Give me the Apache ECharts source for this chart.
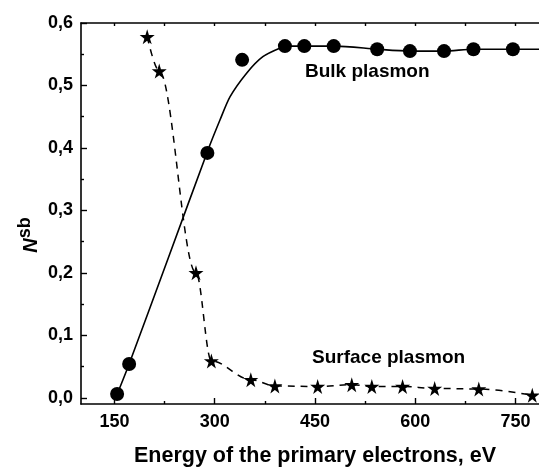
<!DOCTYPE html>
<html>
<head>
<meta charset="utf-8">
<script src="https://cdn.jsdelivr.net/npm/echarts@6/dist/echarts.min.js"></script>
<style>
  html, body { margin: 0; padding: 0; background: #fff; }
  #chart { width: 539px; height: 468px; }
</style>
</head>
<body>
<div id="chart"></div>
<script>
// measured points, bulk plasmon (circles)
const bulkEnergy = [154, 172, 289, 341, 405, 434, 478, 543, 592, 643, 687, 746]
const bulkValue = [0.006, 0.054, 0.392, 0.541, 0.563, 0.563, 0.563, 0.558, 0.555, 0.555, 0.558, 0.558]

// fitted curve through bulk points
const fitEnergy = [152, 172, 230, 289, 308, 323, 348, 372, 398, 410, 480, 543, 592, 643, 687, 800]
const fitValue = [0.0, 0.054, 0.222, 0.394, 0.445, 0.482, 0.52, 0.546, 0.56, 0.563, 0.563, 0.558, 0.555, 0.555, 0.558, 0.558]

// surface plasmon (stars)
const surfEnergy = [199, 217, 272, 295, 354, 390, 454, 505, 535, 581, 629, 695, 775]
const surfValue = [0.578, 0.523, 0.200, 0.059, 0.029, 0.019, 0.018, 0.021, 0.018, 0.018, 0.015, 0.014, 0.004]

const xLabels = [150, 300, 450, 600, 750]
const xMinor = [225, 375, 525, 675]
const xTop = [150, 225, 300, 375, 450, 525, 600, 675, 750]
const yLabels = [0, 0.1, 0.2, 0.3, 0.4, 0.5, 0.6]
const yMinor = [0.05, 0.15, 0.25, 0.35, 0.45, 0.55]

const font = "Liberation Sans, Arial, sans-serif"
const star = "path://M50,0 L61,35 L98,35 L68,57 L79,91 L50,70 L21,91 L32,57 L2,35 L39,35 Z"
const zip = (xs, ys) => xs.map((x, i) => [x, ys[i]])

const xRange = { type: "value", min: 100, max: 800, splitLine: { show: false } }
const yRange = { type: "value", min: -0.01, max: 0.6, splitLine: { show: false } }
const line = { onZero: false, lineStyle: { color: "#000", width: 1.6 } }
const tick = (length, values) => ({
  inside: true, length, customValues: values, lineStyle: { color: "#000", width: 1.4 },
})

const chart = echarts.init(document.getElementById("chart"))
chart.setOption({
  animation: false,
  backgroundColor: "#fff",
  // plot runs past the right edge, as in the source image
  grid: { left: 81, top: 23, width: 468, height: 381, outerBoundsMode: "none", containLabel: false },
  xAxis: [
    {
      ...xRange, position: "bottom",
      axisLine: line,
      axisTick: tick(6, xLabels),
      axisLabel: {
        customValues: xLabels, color: "#000", fontFamily: font, fontWeight: "bold", fontSize: 18, margin: 9,
      },
      name: "Energy of the primary electrons, eV",
      nameLocation: "middle", nameGap: 41,
      nameTextStyle: { color: "#000", fontFamily: font, fontWeight: "bold", fontSize: 21.5 },
    },
    {
      ...xRange, position: "bottom",
      axisLine: { show: false, onZero: false },
      axisTick: tick(3, xMinor),
      axisLabel: { show: false },
    },
    {
      ...xRange, position: "top",
      axisLine: line,
      axisTick: tick(3, xTop),
      axisLabel: { show: false },
    },
  ],
  yAxis: [
    {
      ...yRange, position: "left",
      axisLine: line,
      axisTick: tick(6, yLabels),
      axisLabel: {
        customValues: yLabels, color: "#000", fontFamily: font, fontWeight: "bold", fontSize: 18, margin: 8,
        formatter: (v) => v.toFixed(1).replace(".", ","),
      },
    },
    {
      ...yRange, position: "left",
      axisLine: { show: false, onZero: false },
      axisTick: tick(3, yMinor),
      axisLabel: { show: false },
    },
    {
      ...yRange, position: "right",
      axisLine: line,
      axisTick: { show: false },
      axisLabel: { show: false },
    },
  ],
  series: [
    {
      type: "line", data: zip(fitEnergy, fitValue), smooth: 0.25,
      showSymbol: false, lineStyle: { color: "#000", width: 1.6 }, z: 2,
    },
    {
      type: "scatter", data: zip(bulkEnergy, bulkValue),
      symbol: "circle", symbolSize: 14, itemStyle: { color: "#000", opacity: 1 }, z: 3,
    },
    {
      type: "line", data: zip(surfEnergy, surfValue), smooth: 0.35, smoothMonotone: "x",
      symbol: star, symbolSize: 15, itemStyle: { color: "#000", opacity: 1 },
      lineStyle: { color: "#000", width: 1.5, type: [7, 6] }, z: 3,
    },
  ],
  graphic: [
    {
      type: "text", x: 31, y: 235, rotation: Math.PI / 2,
      style: {
        text: "{n|N}{s|sb}", align: "center", verticalAlign: "middle",
        rich: {
          n: { fill: "#000", fontFamily: font, fontWeight: "bold", fontStyle: "italic", fontSize: 20 },
          s: { fill: "#000", fontFamily: font, fontWeight: "bold", fontSize: 18, padding: [0, 0, 12, 0] },
        },
      },
    },
    {
      type: "text", left: 305, top: 62,
      style: { text: "Bulk plasmon", fill: "#000", font: "bold 19px " + font },
    },
    {
      type: "text", left: 312, top: 348,
      style: { text: "Surface plasmon", fill: "#000", font: "bold 19px " + font },
    },
  ],
})
</script>
</body>
</html>
